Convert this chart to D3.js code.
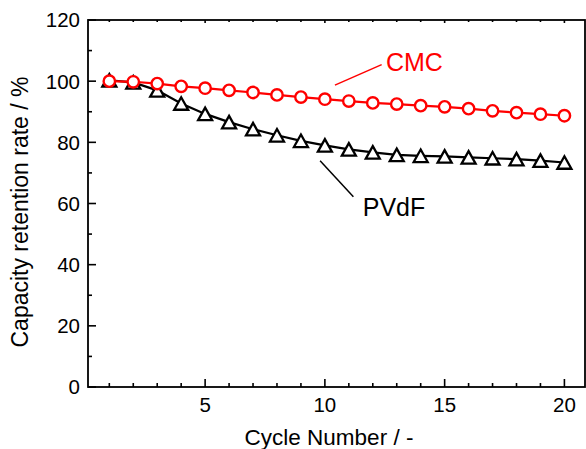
<!DOCTYPE html>
<html>
<head>
<meta charset="utf-8">
<script src="https://cdn.jsdelivr.net/npm/d3@7"></script>
<style>
  body { margin: 0; background: #fff; }
  svg { display: block; font-family: "Liberation Sans", Arial, Helvetica, sans-serif; }
</style>
</head>
<body>
<div id="chart"></div>
<script>
// cycle numbers and retention (%)
const cycles = d3.range(1, 21);
const cmcValues = [100, 99.8, 99.2, 98.3, 97.7, 97.0, 96.3, 95.5, 94.8, 94.1,
                   93.5, 92.9, 92.5, 92.0, 91.6, 91.0, 90.3, 89.7, 89.2, 88.7];
const pvdfValues = [100.3, 99.6, 97.0, 92.7, 89.3, 86.6, 84.3, 82.3, 80.5, 79.0,
                    77.7, 76.7, 75.9, 75.6, 75.4, 75.1, 74.8, 74.5, 74.0, 73.4];
const xTicks = [5, 10, 15, 20];
const yTicks = [0, 20, 40, 60, 80, 100, 120];

const width = 586, height = 449;
const margin = {top: 20, right: 1, bottom: 62, left: 88};

let svg = d3.select("#chart").append("svg")
  .attr("width", width)
  .attr("height", height);

let x = d3.scaleLinear().domain([0.11, 20.86]).range([margin.left, width - margin.right]);
let y = d3.scaleLinear().domain([0, 120]).range([height - margin.bottom, margin.top]);

let x0 = margin.left, x1 = width - margin.right;
let y0 = height - margin.bottom, y1 = margin.top;

// minor / major ticks, all pointing inward
let ticks = svg.append("g").attr("stroke", "#000").attr("stroke-width", 1.6);
cycles.forEach(c => {
  let major = c % 5 === 0;
  ticks.append("line")
    .attr("x1", x(c)).attr("x2", x(c))
    .attr("y1", y0).attr("y2", y0 - (major ? 8 : 4));
  ticks.append("line")
    .attr("x1", x(c)).attr("x2", x(c))
    .attr("y1", y1).attr("y2", y1 + (major ? 3 : 2));
});
d3.range(0, 121, 10).forEach(v => {
  let major = v % 20 === 0;
  ticks.append("line")
    .attr("x1", x0).attr("x2", x0 + (major ? 8 : 4))
    .attr("y1", y(v)).attr("y2", y(v));
});

// frame
svg.append("rect")
  .attr("x", x0).attr("y", y1)
  .attr("width", x1 - x0).attr("height", y0 - y1)
  .attr("fill", "none")
  .attr("stroke", "#000")
  .attr("stroke-width", 1.8);

// tick labels
svg.append("g").selectAll("text")
  .data(xTicks)
  .enter().append("text")
  .attr("x", d => x(d))
  .attr("y", 412)
  .attr("text-anchor", "middle")
  .style("font-size", "20.5px")
  .text(d => d);

svg.append("g").selectAll("text")
  .data(yTicks)
  .enter().append("text")
  .attr("x", 80)
  .attr("y", d => y(d))
  .attr("dy", "0.36em")
  .attr("text-anchor", "end")
  .style("font-size", "20.5px")
  .text(d => d);

// axis titles
svg.append("text")
  .attr("x", 329)
  .attr("y", 445)
  .attr("text-anchor", "middle")
  .style("font-size", "22.5px")
  .text("Cycle Number / -");

svg.append("text")
  .attr("transform", "translate(28,212) rotate(-90)")
  .attr("text-anchor", "middle")
  .style("font-size", "23px")
  .text("Capacity retention rate / %");

let line = d3.line()
  .x((d, i) => x(cycles[i]))
  .y(d => y(d));

// PVdF series
svg.append("path")
  .datum(pvdfValues)
  .attr("d", line)
  .attr("fill", "none")
  .attr("stroke", "#000")
  .attr("stroke-width", 2.2);

let tw = 14, th = 12.5;
svg.append("g").selectAll("path")
  .data(pvdfValues)
  .enter().append("path")
  .attr("transform", (d, i) => "translate(" + x(cycles[i]) + "," + y(d) + ")")
  .attr("d", "M0," + (-th / 2) + "L" + (tw / 2) + "," + (th / 2) + "L" + (-tw / 2) + "," + (th / 2) + "Z")
  .attr("fill", "#fff")
  .attr("stroke", "#000")
  .attr("stroke-width", 2.3)
  .attr("stroke-linejoin", "miter");

// CMC series
svg.append("path")
  .datum(cmcValues)
  .attr("d", line)
  .attr("fill", "none")
  .attr("stroke", "#ff0000")
  .attr("stroke-width", 2.2);

svg.append("g").selectAll("circle")
  .data(cmcValues)
  .enter().append("circle")
  .attr("cx", (d, i) => x(cycles[i]))
  .attr("cy", d => y(d))
  .attr("r", 5.7)
  .attr("fill", "#fff")
  .attr("stroke", "#ff0000")
  .attr("stroke-width", 2.4);

// labels with leader lines (data coordinates)
svg.append("line")
  .attr("x1", x(10.42)).attr("y1", y(98.7))
  .attr("x2", x(12.37)).attr("y2", y(105.4))
  .attr("stroke", "#ff0000").attr("stroke-width", 1.5);
svg.append("text")
  .attr("x", x(12.55)).attr("y", y(103.4))
  .attr("fill", "#ff0000")
  .style("font-size", "25px")
  .text("CMC");

svg.append("line")
  .attr("x1", x(9.80)).attr("y1", y(74.0))
  .attr("x2", x(11.19)).attr("y2", y(62.2))
  .attr("stroke", "#000").attr("stroke-width", 1.5);
svg.append("text")
  .attr("x", x(11.58)).attr("y", y(56.0))
  .attr("fill", "#000")
  .style("font-size", "25px")
  .text("PVdF");
</script>
</body>
</html>
